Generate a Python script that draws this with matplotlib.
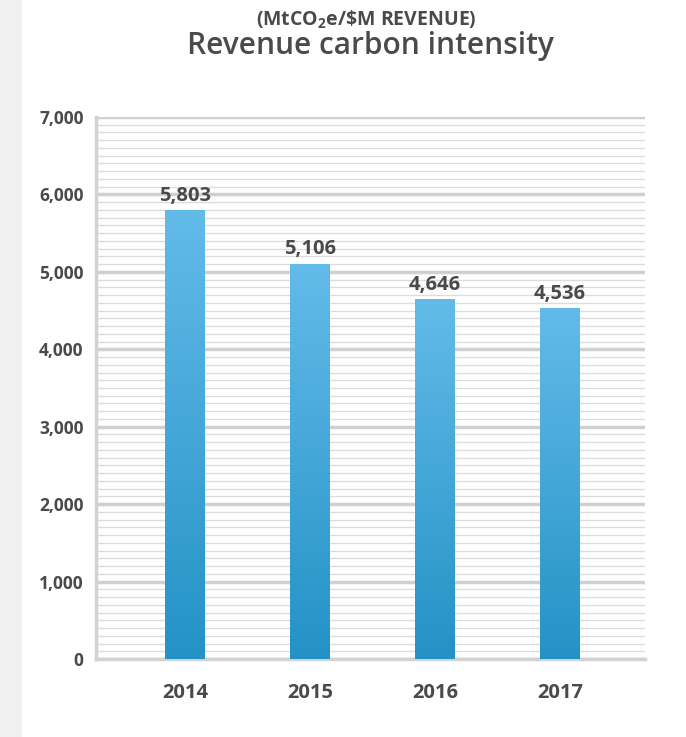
import numpy as np
import matplotlib
matplotlib.use("Agg")
import matplotlib.pyplot as plt
from matplotlib.colors import LinearSegmentedColormap
from matplotlib.patches import Rectangle
from matplotlib.ticker import MultipleLocator, FuncFormatter

years = ["2014", "2015", "2016", "2017"]
intensity = [5803, 5106, 4646, 4536]
value_labels = ["5,803", "5,106", "4,646", "4,536"]

plt.rcParams["font.family"] = ["Open Sans", "DejaVu Sans"]
plt.rcParams["mathtext.default"] = "regular"

TEXT = "#4a4a4a"
fig = plt.figure(figsize=(6.86, 7.37), dpi=100)
fig.patch.set_facecolor("white")

# light side strip
fig.add_artist(Rectangle((0, 0), 22 / 686, 1, transform=fig.transFigure,
                         facecolor="#f0f0f0", edgecolor="none", zorder=0))

ax = fig.add_axes([96 / 686, 1 - 659 / 737, (645 - 96) / 686, (659 - 117) / 737])
ax.set_facecolor("white")

x = np.arange(len(years))
width = 0.32
cmap = LinearSegmentedColormap.from_list("barblue", ["#2492c6", "#63bbe9"])
grad = np.linspace(0, 1, 256).reshape(-1, 1)

bars = ax.bar(x, intensity, width=width, color="none", zorder=3)
for b, lab in zip(bars, value_labels):
    x0, w, h = b.get_x(), b.get_width(), b.get_height()
    im = ax.imshow(grad, cmap=cmap, origin="lower", aspect="auto",
                   extent=(x0, x0 + w, 0, h), zorder=3)
    im.set_clip_path(b)
    ax.annotate(lab, (x0 + w / 2, h), xytext=(0, 3), textcoords="offset points",
                ha="center", va="bottom", fontsize=14.5, fontweight="bold",
                color=TEXT)

ax.set_xlim(-0.712, 3.68)
ax.set_ylim(0, 7000)
ax.set_xticks(x)
ax.set_xticklabels(years)
ax.yaxis.set_major_locator(MultipleLocator(1000))
ax.yaxis.set_minor_locator(MultipleLocator(100))
ax.yaxis.set_major_formatter(FuncFormatter(lambda v, p: f"{int(v):,}"))

ax.grid(axis="y", which="minor", color="#dcdcdc", linewidth=1.0, zorder=0)
ax.grid(axis="y", which="major", color="#d0d0d0", linewidth=2.5, zorder=1)
ax.set_axisbelow(True)

for side in ["top", "right"]:
    ax.spines[side].set_visible(False)
for side in ["left", "bottom"]:
    ax.spines[side].set_color("#d2d2d2")
    ax.spines[side].set_linewidth(2.5)

ax.tick_params(axis="both", which="both", length=0)
ax.tick_params(axis="y", pad=9, labelsize=12.5, labelcolor=TEXT)
ax.tick_params(axis="x", pad=17, labelsize=14.5, labelcolor=TEXT)
for t in ax.get_yticklabels() + ax.get_xticklabels():
    t.set_fontweight("bold")

fig.text(366 / 686, 1 - 20 / 737, "(MtCO$_{2}$e/\\$M REVENUE)", ha="center", va="center",
         fontsize=14, fontweight="bold", color=TEXT)
fig.text(370 / 686, 1 - 46 / 737, "Revenue carbon intensity", ha="center", va="center",
         fontsize=21.5, fontweight="semibold", color=TEXT)

fig.savefig("out.png", dpi=100, facecolor="white")
